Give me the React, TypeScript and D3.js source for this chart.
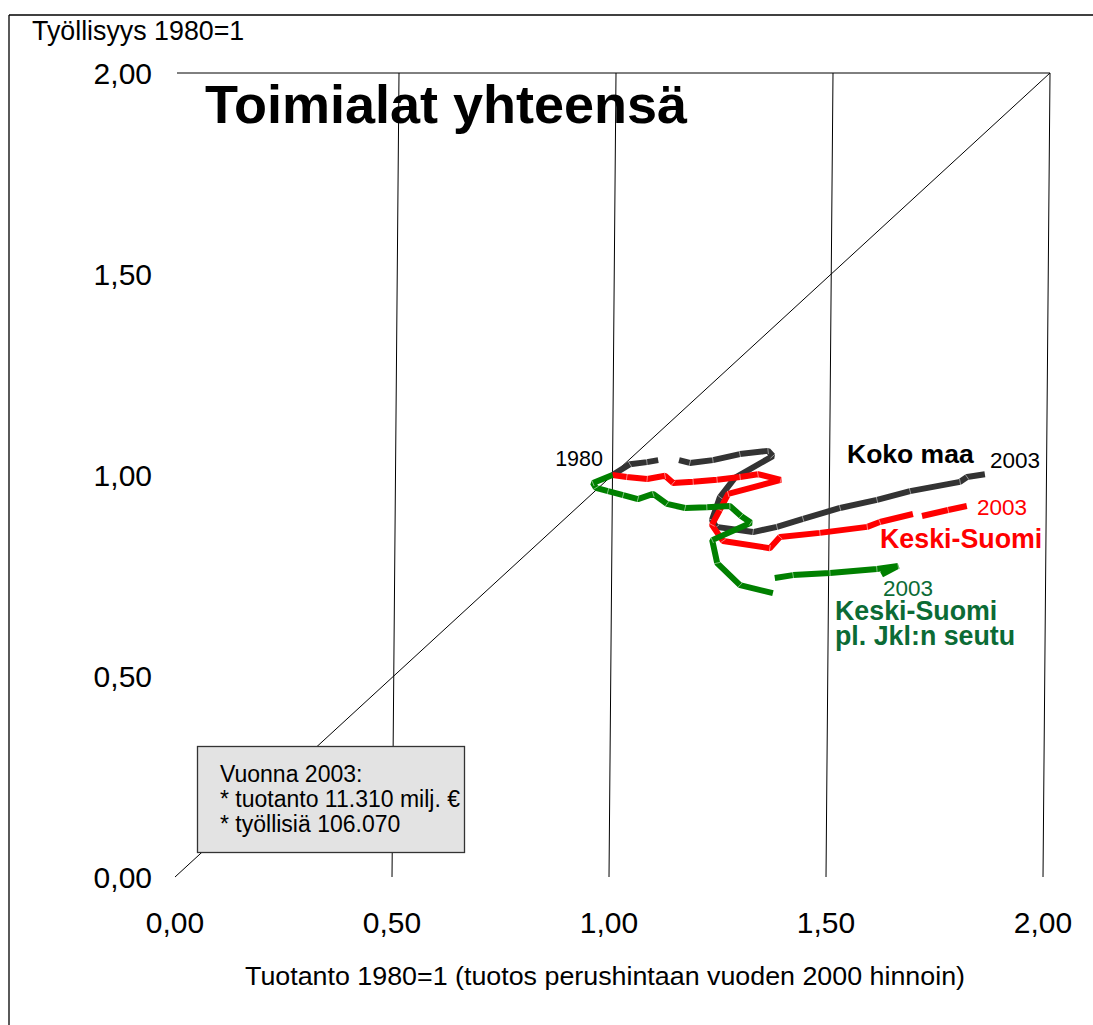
import React from "react";
import * as d3 from "d3";

// ---------- data ----------
const xTicks = [0, 0.5, 1, 1.5, 2];
const yTicks = [0, 0.5, 1, 1.5, 2];
const xTickLabels = ["0,00", "0,50", "1,00", "1,50", "2,00"];
const yTickLabels = ["0,00", "0,50", "1,00", "1,50", "2,00"];
const gridX = [0.5, 1, 1.5, 2];

// Koko maa (production x, employment y), null = missing year
const kokoMaaX = [1.0, 1.04, 1.079, 1.105, null, 1.153, 1.178, 1.231, 1.293, 1.358, 1.369, 1.282, 1.248, 1.23, 1.24, 1.325, 1.38, 1.44, 1.525, 1.61, 1.686, 1.801, 1.817, 1.858];
const kokoMaaY = [1.0, 1.027, 1.032, 1.037, null, 1.037, 1.03, 1.037, 1.052, 1.06, 1.047, 0.993, 0.945, 0.888, 0.871, 0.858, 0.871, 0.891, 0.918, 0.938, 0.96, 0.983, 0.995, 1.002];

const keskiSuomiX = [1.0, 1.033, 1.08, 1.121, 1.14, 1.186, 1.241, 1.294, 1.335, 1.388, 1.267, 1.248, 1.23, 1.256, 1.364, 1.387, 1.479, 1.588, 1.617, 1.693, null, 1.714, 1.774, 1.817];
const keskiSuomiY = [1.0, 0.995, 0.99, 0.998, 0.98, 0.983, 0.988, 0.995, 1.002, 0.988, 0.953, 0.913, 0.876, 0.836, 0.818, 0.846, 0.856, 0.871, 0.883, 0.903, null, 0.898, 0.913, 0.923];

const ksPlJklX = [1.0, 0.955, 0.962, 0.99, 1.025, 1.059, 1.094, 1.126, 1.168, 1.218, 1.271, 1.297, 1.32, 1.231, 1.243, 1.296, 1.372, null, 1.376, 1.418, 1.503, 1.611, 1.66, 1.622];
const ksPlJklY = [1.0, 0.98, 0.968, 0.96, 0.95, 0.94, 0.953, 0.928, 0.918, 0.92, 0.923, 0.898, 0.881, 0.838, 0.781, 0.726, 0.706, null, 0.744, 0.751, 0.756, 0.766, 0.774, 0.752];

const seriesNames = ["Koko maa", "Keski-Suomi", "Keski-Suomi pl. Jkl:n seutu"];
const seriesColors = ["#333333", "#ff0000", "#008000"];

const title = "Toimialat yhteensä";
const yTitle = "Työllisyys 1980=1";
const xTitle = "Tuotanto 1980=1 (tuotos perushintaan vuoden 2000 hinnoin)";
const boxLines = ["Vuonna 2003:", "* tuotanto 11.310 milj. €", "* työllisiä 106.070"];

// ---------- layout ----------
const W = 1093;
const H = 1025;
const FONT = "'Liberation Sans', Arial, Helvetica, sans-serif";

const xScale = d3.scaleLinear().domain([0, 2]).range([175, 1043]);
const yScale = d3.scaleLinear().domain([0, 2]).range([877, 73]);
const SKEW = 7 / 804; // slight shear of the plot area
const px = (x: number, y: number) => xScale(x) + (yScale(0) - yScale(y)) * SKEW;
const py = (y: number) => yScale(y);

function buildPoints(xs: (number | null)[], ys: (number | null)[]) {
  return xs.map((x, i) => (x == null || ys[i] == null ? null : [x, ys[i] as number] as [number, number]));
}

function Series({ xs, ys, color }: { xs: (number | null)[]; ys: (number | null)[]; color: string }) {
  const pts = buildPoints(xs, ys);
  const line = d3
    .line<[number, number] | null>()
    .defined((d) => d != null)
    .x((d) => px(d![0], d![1]))
    .y((d) => py(d![1]));
  const pathD = line(pts) || "";
  const ticks: JSX.Element[] = [];
  for (let i = 1; i < pts.length - 1; i++) {
    const a = pts[i - 1], b = pts[i], c = pts[i + 1];
    if (!a || !b || !c) continue;
    const bx = px(b[0], b[1]), by = py(b[1]);
    const ax = px(a[0], a[1]), ay = py(a[1]);
    const dx = bx - ax, dy = by - ay;
    const len = Math.hypot(dx, dy) || 1;
    const nx = -dy / len, ny = dx / len;
    ticks.push(
      <line key={i} x1={bx - nx * 3.2} y1={by - ny * 3.2} x2={bx + nx * 3.2} y2={by + ny * 3.2}
        stroke="#ffffff" strokeWidth={0.9} opacity={0.55} />
    );
  }
  return (
    <g>
      <path d={pathD} fill="none" stroke={color} strokeWidth={6} strokeLinejoin="bevel" strokeLinecap="butt" />
      {ticks}
    </g>
  );
}

export default function App() {
  return (
    <svg width={W} height={H} style={{ position: "absolute", left: 0, top: 0, background: "#fff" }} fontFamily={FONT}>
      <rect x={0} y={0} width={W} height={H} fill="#ffffff" />
      {/* outer frame */}
      <line x1={9} y1={15} x2={W} y2={15} stroke="#000" strokeWidth={1.3} />
      <line x1={9} y1={15} x2={9} y2={H} stroke="#000" strokeWidth={1.3} />

      {/* top gridline y=2 */}
      <line x1={177} y1={py(2)} x2={px(2, 2)} y2={py(2)} stroke="#000" strokeWidth={1} />
      {/* vertical gridlines */}
      {gridX.map((g) => (
        <line key={g} x1={px(g, 0)} y1={py(0)} x2={px(g, 2)} y2={py(2)} stroke="#000" strokeWidth={1} />
      ))}
      {/* diagonal y = x */}
      <line x1={px(0, 0)} y1={py(0)} x2={px(2, 2)} y2={py(2)} stroke="#000" strokeWidth={1} />

      {/* title */}
      <text x={205} y={123} fontSize={54} fontWeight="bold" fill="#000">{title}</text>

      {/* y axis */}
      <text x={32} y={40} fontSize={26.8} fill="#000">{yTitle}</text>
      {yTicks.map((t, i) => (
        <text key={t} x={152} y={py(t) + 10.5} fontSize={30} textAnchor="end" fill="#000">{yTickLabels[i]}</text>
      ))}

      {/* x axis */}
      {xTicks.map((t, i) => (
        <text key={t} x={px(t, 0)} y={933} fontSize={30} textAnchor="middle" fill="#000">{xTickLabels[i]}</text>
      ))}
      <text x={605} y={985} fontSize={25} textAnchor="middle" textLength={720} lengthAdjust="spacingAndGlyphs" fill="#000">{xTitle}</text>

      {/* series */}
      <Series xs={kokoMaaX} ys={kokoMaaY} color={seriesColors[0]} />
      <Series xs={keskiSuomiX} ys={keskiSuomiY} color={seriesColors[1]} />
      <Series xs={ksPlJklX} ys={ksPlJklY} color={seriesColors[2]} />

      {/* annotations */}
      <text x={603} y={466} fontSize={21.5} textAnchor="end" fill="#000">1980</text>
      <text x={847} y={463} fontSize={26.5} fontWeight="bold" fill="#000">{seriesNames[0]}</text>
      <text x={990} y={468} fontSize={22.5} fill="#000">2003</text>
      <text x={977} y={515} fontSize={22.5} fill="#ff0000">2003</text>
      <text x={880} y={548} fontSize={26.8} fontWeight="bold" fill="#ff0000">{seriesNames[1]}</text>
      <text x={883} y={596} fontSize={22.5} fill="#0b6b35">2003</text>
      <text x={835} y={620} fontSize={26.8} fontWeight="bold" fill="#0b6b35">Keski-Suomi</text>
      <text x={835} y={645} fontSize={26.8} fontWeight="bold" fill="#0b6b35">pl. Jkl:n seutu</text>

      {/* info box */}
      <rect x={197.5} y={746.5} width={267} height={106} fill="#e3e3e3" stroke="#333" strokeWidth={1.3} />
      {boxLines.map((l, i) => (
        <text key={i} x={220} y={782 + i * 25} fontSize={23} fill="#000">{l}</text>
      ))}
    </svg>
  );
}
